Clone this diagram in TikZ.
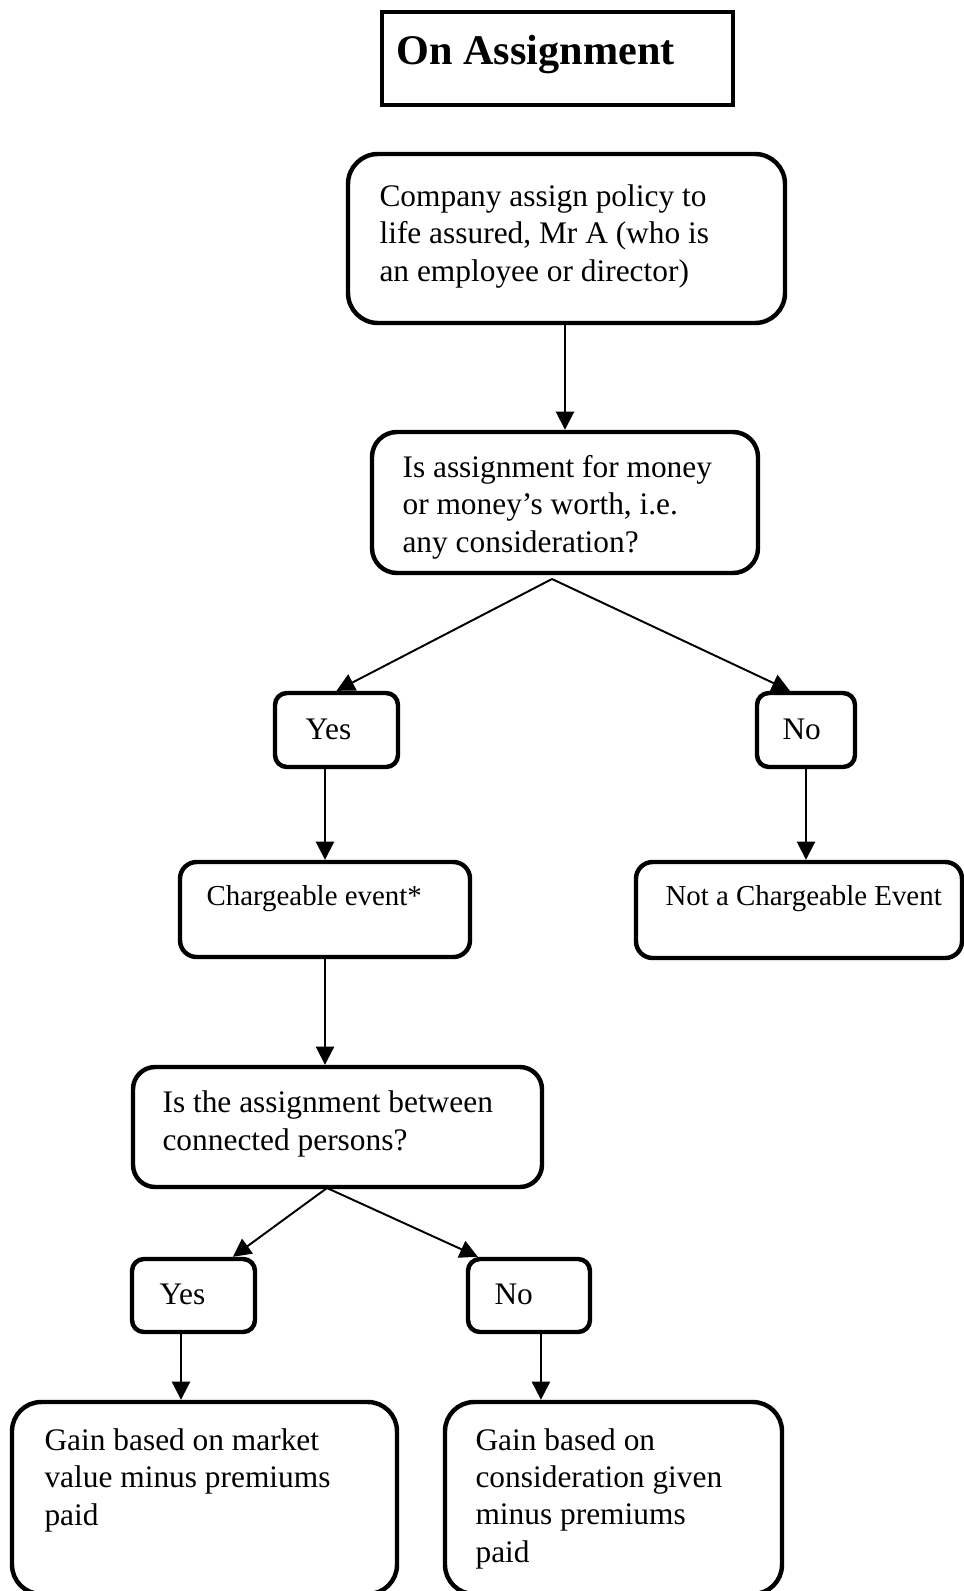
\documentclass[tikz,border=0pt]{standalone}
\usepackage{fontspec}
\setmainfont{Liberation Serif}
\usetikzlibrary{arrows.meta,fit}
\begin{document}
\begin{tikzpicture}[x=0.36pt, y=-0.36pt, box style/.style={draw, line width=1.6pt, inner sep=0pt, rounded corners=#1}, title style/.style={draw, line width=1.6pt, inner sep=0pt}, text style/.style={anchor=base west, align=left, inner sep=0pt, font=\fontsize{11.3}{13.4}\selectfont}, small style/.style={anchor=base west, inner sep=0pt, font=\fontsize{10.4}{12.5}\selectfont}, arrow style/.style={-{Triangle[length=6.5pt,width=6.5pt]}, line width=0.7pt}]
	\useasboundingbox (0,0) rectangle (964,1591);
	\node[title style, fit={(382,12) (733,105)}] (B0) {};
	\node[box style=10.8pt, fit={(348,154) (785,323)}] (B1) {};
	\node[box style=9pt, fit={(372,432) (758,573)}] (B2) {};
	\node[box style=4.3pt, fit={(275,693) (398,767)}] (B3) {};
	\node[box style=4.3pt, fit={(757,693) (855,767)}] (B4) {};
	\node[box style=6pt, fit={(180,862) (470,957)}] (B5) {};
	\node[box style=6pt, fit={(636,862) (962,958)}] (B6) {};
	\node[box style=8pt, fit={(133,1067) (542,1187)}] (B7) {};
	\node[box style=4.3pt, fit={(132,1259) (255,1332)}] (B8) {};
	\node[box style=4.3pt, fit={(468,1259) (590,1332)}] (B9) {};
	\node[box style=10.5pt, fit={(12,1402) (397,1594)}] (B10) {};
	\node[box style=10.5pt, fit={(445,1402) (782,1594)}] (B11) {};
	% texts (placed at the baseline of their last line)
	\node[text style, font=\fontsize{15.2}{18}\selectfont\bfseries] (T0) at (396,65) {On Assignment};
	\node[text style] (T1) at (379,281) {Company assign policy to\\life assured, Mr A (who is\\an employee or director)};
	\node[text style] (T2) at (402,552) {Is assignment for money\\or money’s worth, i.e.\\any consideration?};
	\node[text style] (T3) at (305,739) {Yes};
	\node[text style] (T4) at (782,739) {No};
	\node[small style] (T5) at (206,905) {Chargeable event*};
	\node[small style] (T6) at (665,905) {Not a Chargeable Event};
	\node[text style] (T7) at (162,1150) {Is the assignment between\\connected persons?};
	\node[text style] (T8) at (159,1304) {Yes};
	\node[text style] (T9) at (494,1304) {No};
	\node[text style] (T10) at (44,1525) {Gain based on market\\value minus premiums\\paid};
	\node[text style] (T11) at (475,1562) {Gain based on\\consideration given\\minus premiums\\paid};
	% connectors
	\coordinate (C1) at (552,579);
	\coordinate (C2) at (327,1188);
	\draw[arrow style] (B2.north |- B1.south) -- (B2.north);
	\draw[arrow style] (C1) -- (B3.north);
	\draw[arrow style] (C1) -- ([xshift=-5.8pt]B4.north);
	\draw[arrow style] (B5.north |- B3.south) -- (B5.north);
	\draw[arrow style] (B4.south) -- (B4.south |- B6.north);
	\draw[arrow style] (B5.south) -- (B5.south |- B7.north);
	\draw[arrow style] (C2) -- ([xshift=14.2pt]B8.north);
	\draw[arrow style] (C2) -- ([xshift=-18.4pt]B9.north);
	\draw[arrow style] ([xshift=-4.5pt]B8.south) -- ([xshift=-4.5pt]B8.south |- B10.north);
	\draw[arrow style] ([xshift=4.3pt]B9.south) -- ([xshift=4.3pt]B9.south |- B11.north);
\end{tikzpicture}
\end{document}
